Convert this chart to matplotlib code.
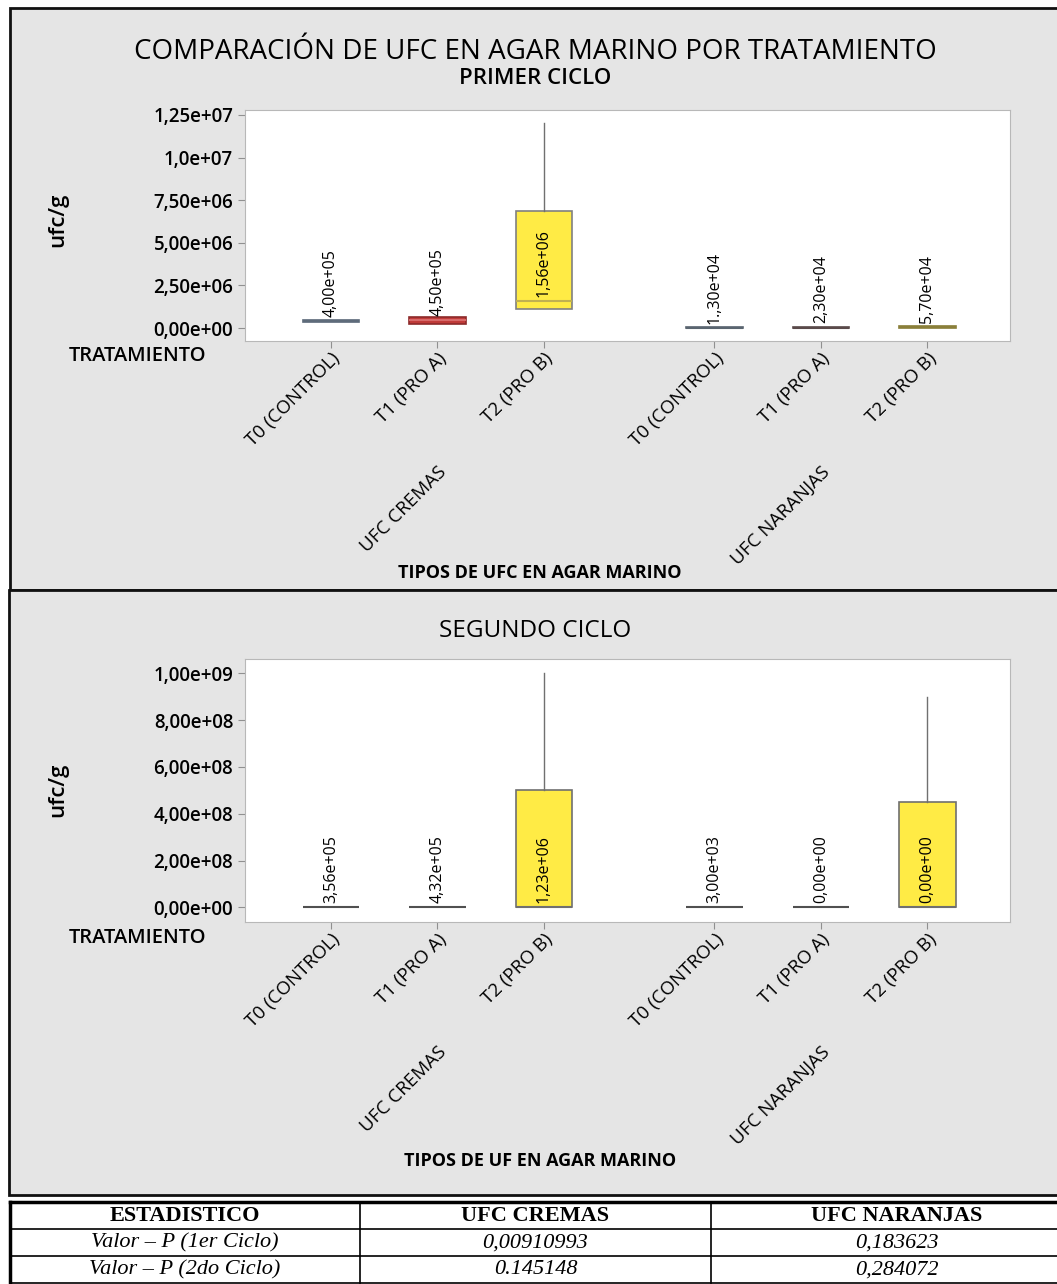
import matplotlib
matplotlib.use("Agg")
import matplotlib.pyplot as plt
from matplotlib.patches import Rectangle
from matplotlib.lines import Line2D
import matplotlib.transforms as mtransforms

plt.rcParams['font.family'] = ['Open Sans', 'DejaVu Sans']

W, H = 1057, 1284

# treatments and groups
tratamientos = ["T0 (CONTROL)", "T1 (PRO A)", "T2 (PRO B)",
                "T0 (CONTROL)", "T1 (PRO A)", "T2 (PRO B)"]
grupos = ["UFC CREMAS", "UFC NARANJAS"]
posiciones = [1, 2, 3, 4.6, 5.6, 6.6]

# first cycle box statistics (ufc/g)
c1_q1 = [3.6e5, 2.5e5, 1.10e6, 0.0, 0.0, 0.0]
c1_med = [4.00e5, 4.50e5, 1.56e6, 1.30e4, 2.30e4, 5.70e4]
c1_q3 = [5.0e5, 6.6e5, 6.87e6, 5.0e4, 6.0e4, 1.2e5]
c1_min = [3.6e5, 2.5e5, 1.10e6, 0.0, 0.0, 0.0]
c1_max = [5.0e5, 6.6e5, 1.20e7, 5.0e4, 6.0e4, 1.2e5]
c1_etiq = ["4,00e+05", "4,50e+05", "1,56e+06", "1.,30e+04", "2,30e+04", "5,70e+04"]
c1_yticks = [0, 2.5e6, 5e6, 7.5e6, 1e7, 1.25e7]
c1_ytlab = ["0,00e+00", "2,50e+06", "5,00e+06", "7,50e+06", "1,0e+07", "1,25e+07"]

# second cycle box statistics (ufc/g)
c2_q1 = [0.0, 0.0, 0.0, 0.0, 0.0, 0.0]
c2_med = [3.56e5, 4.32e5, 1.23e6, 3.00e3, 0.0, 0.0]
c2_q3 = [7.0e5, 8.0e5, 5.03e8, 6.0e3, 0.0, 4.51e8]
c2_min = [0.0, 0.0, 0.0, 0.0, 0.0, 0.0]
c2_max = [7.0e5, 8.0e5, 1.0e9, 6.0e3, 0.0, 9.0e8]
c2_etiq = ["3,56e+05", "4,32e+05", "1,23e+06", "3,00e+03", "0,00e+00", "0,00e+00"]
c2_yticks = [0, 2e8, 4e8, 6e8, 8e8, 1e9]
c2_ytlab = ["0,00e+00", "2,00e+08", "4,00e+08", "6,00e+08", "8,00e+08", "1,00e+09"]

# p-values table
tabla_cab = ["ESTADISTICO", "UFC CREMAS", "UFC NARANJAS"]
tabla_filas = [["Valor – P (1er Ciclo)", "0,00910993", "0,183623"],
               ["Valor – P (2do Ciclo)", "0.145148", "0,284072"]]

c1_fill = ["#73839a", "#c03a38", "#ffeb45", "#73808e", "#6e5c5c", "#aa9d48"]
c1_edge = ["#5e6b7a", "#8c2a2a", "#808080", "#5a6570", "#5a4a4a", "#8a7f3a"]
c1_medc = ["#5e6b7a", "#d86a6a", "#c0b050", "#5a6570", "#5a4a4a", "#8a7f3a"]
c2_fill = ["#505050", "#505050", "#ffeb45", "#505050", "#505050", "#ffeb45"]
c2_edge = ["#505050", "#505050", "#707070", "#505050", "#505050", "#707070"]
c2_medc = ["#505050", "#505050", "#707070", "#505050", "#505050", "#707070"]


def fx(x):
    return x / W


def fy(y):
    return 1 - y / H


fig = plt.figure(figsize=(W / 100, H / 100), dpi=100)
fig.patch.set_facecolor("white")

# panel backgrounds (kept under the axes)
for (x0, y0, x1, y1) in [(10, 8, 1065, 590), (9, 590, 1065, 1195)]:
    fig.patches.append(Rectangle((fx(x0), fy(y1)), fx(x1 - x0), (y1 - y0) / H,
                                 transform=fig.transFigure, facecolor="#e5e5e5",
                                 edgecolor="#111111", linewidth=2, zorder=-5))


def panel(rect, q1, med, q3, lo, hi, etiq, yticks, ytlab, ylim, fill, edge, medc):
    ax = fig.add_axes(rect)
    ax.set_zorder(2)
    ax.set_facecolor("white")
    stats = []
    for i in range(len(posiciones)):
        stats.append(dict(q1=q1[i], med=med[i], q3=q3[i], whislo=lo[i],
                          whishi=hi[i], fliers=[]))
    bp = ax.bxp(stats, positions=posiciones, widths=0.53, patch_artist=True,
                showcaps=False, showfliers=False,
                whiskerprops=dict(color="#707070", linewidth=1),
                medianprops=dict(linewidth=1.5))
    for i, b in enumerate(bp["boxes"]):
        b.set_facecolor(fill[i])
        b.set_edgecolor(edge[i])
        b.set_linewidth(1.2)
        bp["medians"][i].set_color(medc[i])
    for i, p in enumerate(posiciones):
        ax.annotate(etiq[i], (p, med[i]), xytext=(0, 3), textcoords="offset points",
                    rotation=90, ha="center", va="bottom", fontsize=11.5)
    ax.set_xlim(0.1925, 7.376)
    ax.set_ylim(*ylim)
    ax.set_yticks(yticks, ytlab, fontsize=13.5, fontweight="semibold")
    ax.set_xticks(posiciones, tratamientos, rotation=45, ha="right",
                  rotation_mode="anchor", fontsize=13.5)
    ax.tick_params(axis="both", colors="#909090", length=5, labelcolor="black")
    ax.tick_params(axis="x", pad=1)
    for s in ax.spines.values():
        s.set_color("#b8b8b8")
    return ax


ax1 = panel([fx(245), fy(341), fx(765), 231 / H], c1_q1, c1_med, c1_q3, c1_min, c1_max,
            c1_etiq, c1_yticks, c1_ytlab, (-7.6e5, 1.279e7), c1_fill, c1_edge, c1_medc)
ax2 = panel([fx(245), fy(921.7), fx(765), 262.7 / H], c2_q1, c2_med, c2_q3, c2_min, c2_max,
            c2_etiq, c2_yticks, c2_ytlab, (-6.15e7, 1.061e9), c2_fill, c2_edge, c2_medc)

# group labels under the treatment labels
for ax, ytop in [(ax1, 463), (ax2, 1043)]:
    tr = mtransforms.blended_transform_factory(ax.transData, fig.transFigure)
    for g, centro in zip(grupos, [posiciones[1], posiciones[4]]):
        ax.text(centro, fy(ytop), g, transform=tr, rotation=45, ha="right", va="top",
                rotation_mode="anchor", fontsize=13.5)

fig.text(fx(535), fy(52), "COMPARACIÓN DE UFC EN AGAR MARINO POR TRATAMIENTO",
         ha="center", va="center", fontsize=20)
fig.text(fx(535), fy(78), "PRIMER CICLO", ha="center", va="center", fontsize=16,
         fontweight="semibold")
fig.text(fx(535), fy(631), "SEGUNDO CICLO", ha="center", va="center", fontsize=17.5)

for ylab_y, trat_y, tipo_y, tipo in [(220, 356, 573, "TIPOS DE UFC EN AGAR MARINO"),
                                     (790, 938, 1161, "TIPOS DE UF EN AGAR MARINO")]:
    fig.text(fx(58), fy(ylab_y), "ufc/g", rotation=90, ha="center", va="center",
             fontsize=16, fontweight="semibold")
    fig.text(fx(138), fy(trat_y), "TRATAMIENTO", ha="center", va="center",
             fontsize=14.5, fontweight="semibold")
    fig.text(fx(540), fy(tipo_y), tipo, ha="center", va="center", fontsize=13,
             fontweight="bold")

# p-value table
t_top, t_bot = 1202, 1283
filas_y = [1202, 1229, 1256, 1283]
cols_x = [10, 360, 711, 1062]
lw = 1.2
fig.lines.append(Line2D([fx(10), fx(1062)], [fy(t_top), fy(t_top)], transform=fig.transFigure,
                        color="black", linewidth=2.5))
for yy in filas_y[1:]:
    fig.lines.append(Line2D([fx(10), fx(1062)], [fy(yy), fy(yy)], transform=fig.transFigure,
                            color="black", linewidth=lw))
for xx in cols_x:
    fig.lines.append(Line2D([fx(xx), fx(xx)], [fy(t_top), fy(t_bot)], transform=fig.transFigure,
                            color="black", linewidth=2.5 if xx == 10 else lw))
centros_x = [(cols_x[i] + cols_x[i + 1]) / 2 for i in range(3)]
centros_x[2] = 897
for i, txt in enumerate(tabla_cab):
    fig.text(fx(centros_x[i]), fy(1216), txt, ha="center", va="center",
             family="Liberation Serif", fontweight="bold", fontsize=16)
for r, fila in enumerate(tabla_filas):
    for i, txt in enumerate(fila):
        fig.text(fx(centros_x[i]), fy(1243 + 27 * r), txt, ha="center", va="center",
                 family="Liberation Serif", style="italic", fontsize=16)

fig.savefig("out.png", dpi=100)
